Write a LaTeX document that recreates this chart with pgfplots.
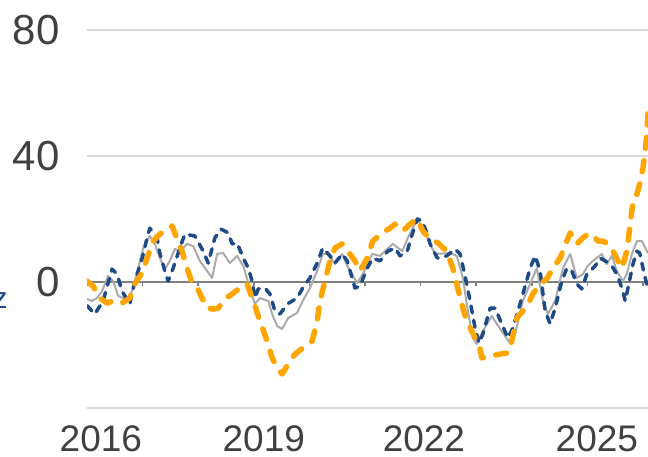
\documentclass[border=0pt]{standalone}
\usepackage{pgfplots}
\pgfplotsset{compat=1.18}
\usepackage{fontspec}
\setmainfont{Liberation Sans}

\definecolor{navyline}{RGB}{30,75,135}
\definecolor{orangeline}{RGB}{255,165,0}
\definecolor{grayline}{RGB}{170,170,170}
\definecolor{gridgray}{RGB}{217,217,217}
\definecolor{zerogray}{RGB}{128,128,128}
\definecolor{labelgray}{RGB}{64,64,64}

\begin{document}
\begin{tikzpicture}
\begin{axis}[
    at={(43.5pt,24pt)}, anchor=south west,
    scale only axis,
    width=280.5pt, height=189pt,
    x coord trafo/.code={\pgfmathparse{#1-2015}},
    x coord inv trafo/.code={\pgfmathparse{#1+2015}},
    xmin=2015.75, xmax=2025.84,
    ymin=-40, ymax=80,
    axis line style={draw=none},
    major tick length=0pt,
    xtick={2016.0,2018.93,2021.81,2024.92},
    xticklabels={2016,2019,2022,2025},
    ytick={-40,0,40,80},
    yticklabels={,0,40,80},
    ymajorgrids,
    grid style={gridgray, line width=0.75pt},
    xticklabel style={font=\fontsize{18.5}{22}\selectfont, text=labelgray, anchor=north, inner sep=0pt, yshift=-8.5pt},
    yticklabel style={font=\fontsize{21}{25}\selectfont, text=labelgray, anchor=east, inner sep=0pt, xshift=-13.5pt},
    clip=true,
]
% zero line with yearly ticks
\draw[zerogray, line width=0.75pt] (axis cs:2015.75,0) -- (axis cs:2025.84,0);
\pgfplotsinvokeforeach{2015.75,2016.75,2017.75,2018.75,2019.75,2020.75,2021.75,2022.75,2023.75,2024.75,2025.75}{
  \draw[zerogray, line width=0.75pt] (axis cs:#1,0) -- ([yshift=-2pt]axis cs:#1,0);
}

% gray solid series
\addplot[grayline, line width=1pt, line join=round] coordinates {
(2015.75,-5.4)(2015.84,-6.0)(2015.93,-5.1)(2016.02,-2.9)(2016.13,1.9)(2016.22,0.3)
(2016.31,-4.4)(2016.40,-5.1)(2016.49,-6.0)(2016.58,-1.9)(2016.67,4.4)(2016.76,10.8)
(2016.88,14.6)(2016.97,12.1)(2017.06,7.6)(2017.15,4.1)(2017.24,6.7)(2017.33,10.5)
(2017.42,9.8)(2017.55,12.1)(2017.66,11.4)(2017.78,6.7)(2017.91,3.5)(2018.00,1.3)
(2018.09,8.9)(2018.20,9.2)(2018.32,6.0)(2018.45,8.3)(2018.56,5.1)(2018.68,-1.9)
(2018.77,-7.0)(2018.86,-5.1)(2019.01,-6.0)(2019.08,-10.2)(2019.17,-14.0)(2019.26,-14.9)
(2019.37,-11.4)(2019.53,-9.8)(2019.63,-6.0)(2019.76,-1.9)(2019.89,3.5)(2019.99,8.9)
(2020.08,8.9)(2020.21,5.7)(2020.34,8.9)(2020.43,5.1)(2020.61,-0.3)(2020.71,2.5)
(2020.88,8.9)(2021.02,8.3)(2021.25,12.1)(2021.42,9.8)(2021.52,14.0)(2021.69,20.0)
(2021.79,17.1)(2021.92,12.1)(2022.01,8.9)(2022.28,9.2)(2022.40,8.3)(2022.51,1.3)
(2022.60,-9.2)(2022.69,-17.8)(2022.76,-19.7)(2022.87,-15.6)(2023.03,-10.8)(2023.18,-14.9)
(2023.36,-19.4)(2023.45,-16.5)(2023.59,-6.0)(2023.72,-0.6)(2023.84,4.4)(2023.95,-6.0)
(2024.04,-10.2)(2024.17,-6.0)(2024.31,4.4)(2024.44,8.9)(2024.56,1.3)(2024.67,2.5)
(2024.75,5.0)(2024.85,6.7)(2025.01,8.9)(2025.10,5.7)(2025.19,8.3)(2025.28,3.5)
(2025.39,0.3)(2025.46,2.5)(2025.55,8.9)(2025.64,13.0)(2025.73,13.0)(2025.84,9.2)
};

% navy dashed series
\addplot[navyline, line width=1.75pt, line cap=round, line join=round, dash pattern=on 3.5pt off 3.75pt] coordinates {
(2015.75,-7.5)(2015.89,-10.2)(2016.04,-6.0)(2016.20,4.1)(2016.29,2.5)(2016.38,-2.9)
(2016.52,-7.0)(2016.61,0.3)(2016.74,7.3)(2016.83,14.0)(2016.88,17.1)(2017.01,14.0)
(2017.06,9.2)(2017.15,3.5)(2017.21,0.3)(2017.30,4.4)(2017.42,10.8)(2017.51,15.2)
(2017.69,14.6)(2017.84,9.8)(2017.93,6.0)(2018.05,14.0)(2018.16,16.8)(2018.29,15.6)
(2018.36,12.1)(2018.45,12.4)(2018.56,7.6)(2018.65,4.4)(2018.72,0.3)(2018.77,-5.1)
(2018.83,-2.2)(2018.95,-1.9)(2019.04,-3.8)(2019.13,-9.2)(2019.22,-10.2)(2019.35,-7.0)
(2019.53,-5.1)(2019.63,-1.9)(2019.76,1.3)(2019.89,6.0)(2019.99,10.8)(2020.12,8.3)
(2020.21,6.0)(2020.34,8.9)(2020.43,6.7)(2020.57,-1.9)(2020.66,-1.3)(2020.79,4.4)
(2020.89,7.6)(2021.02,6.7)(2021.16,9.8)(2021.29,10.8)(2021.38,8.3)(2021.51,9.8)
(2021.60,15.2)(2021.69,20.0)(2021.78,19.4)(2021.87,15.2)(2021.92,12.1)(2022.05,7.6)
(2022.22,8.3)(2022.37,10.5)(2022.46,8.9)(2022.55,1.9)(2022.64,-6.0)(2022.73,-14.6)
(2022.80,-19.4)(2022.87,-16.5)(2023.00,-8.3)(2023.09,-8.3)(2023.21,-13.3)(2023.32,-17.8)
(2023.41,-14.6)(2023.59,-3.8)(2023.72,4.4)(2023.81,8.3)(2023.90,3.5)(2023.99,-9.2)
(2024.08,-13.3)(2024.17,-8.3)(2024.29,0.3)(2024.38,4.4)(2024.47,3.5)(2024.56,-0.6)
(2024.65,-2.2)(2024.74,2.5)(2024.89,5.1)(2024.98,7.6)(2025.07,6.7)(2025.19,5.1)
(2025.28,2.5)(2025.37,-1.9)(2025.43,-6.0)(2025.48,-1.9)(2025.57,5.7)(2025.64,9.8)
(2025.69,9.2)(2025.75,4.4)(2025.84,-2.5)
};

% orange dashed series
\addplot[orangeline, line width=2.75pt, line cap=round, line join=round, dash pattern=on 5.5pt off 6.25pt] coordinates {
(2015.75,0.3)(2015.86,-1.3)(2015.98,-5.1)(2016.11,-6.7)(2016.22,-6.0)(2016.38,-6.7)
(2016.52,-5.1)(2016.61,-0.6)(2016.74,2.9)(2016.83,7.6)(2016.94,13.0)(2017.06,15.2)
(2017.19,16.8)(2017.28,17.8)(2017.37,13.7)(2017.46,9.8)(2017.55,4.4)(2017.64,-0.3)
(2017.73,-1.9)(2017.82,-5.1)(2017.91,-8.3)(2018.02,-8.6)(2018.11,-8.3)(2018.23,-5.4)
(2018.36,-3.8)(2018.50,-1.9)(2018.63,-0.6)(2018.74,-6.0)(2018.86,-12.4)(2018.99,-18.7)
(2019.08,-24.1)(2019.17,-27.3)(2019.26,-29.2)(2019.37,-26.0)(2019.49,-22.9)(2019.63,-21.0)
(2019.80,-18.7)(2019.89,-12.4)(2019.94,-6.0)(2020.03,0.3)(2020.12,6.7)(2020.21,10.8)
(2020.34,12.1)(2020.44,9.8)(2020.57,6.7)(2020.66,3.5)(2020.79,7.6)(2020.89,13.0)
(2021.06,15.6)(2021.20,17.1)(2021.29,18.4)(2021.43,16.2)(2021.56,18.4)(2021.69,20.0)
(2021.79,16.2)(2021.92,13.7)(2022.06,12.4)(2022.22,9.8)(2022.33,4.4)(2022.40,-0.6)
(2022.49,-7.0)(2022.58,-12.4)(2022.67,-15.6)(2022.76,-18.7)(2022.82,-21.3)(2022.85,-24.1)
(2023.00,-23.5)(2023.18,-22.9)(2023.32,-22.5)(2023.39,-18.7)(2023.48,-11.4)(2023.59,-9.2)
(2023.68,-7.0)(2023.77,-3.8)(2023.90,-0.6)(2024.02,1.0)(2024.13,4.4)(2024.26,7.6)
(2024.38,13.0)(2024.44,15.6)(2024.56,12.1)(2024.67,14.0)(2024.76,15.2)(2024.83,15.2)
(2024.94,13.0)(2025.03,13.0)(2025.12,12.1)(2025.21,9.8)(2025.30,6.7)(2025.37,4.4)
(2025.46,9.8)(2025.52,18.4)(2025.57,25.7)(2025.64,27.9)(2025.69,31.1)(2025.75,36.2)
(2025.79,41.6)(2025.82,47.0)(2025.84,54.3)
};
\end{axis}
% cut-off fragment of text at the left edge
\node[anchor=base east, inner sep=0pt, text=navyline, font=\fontsize{15}{18}\selectfont] at (4pt,74pt) {z};
\pgfresetboundingbox
\useasboundingbox (0,0) rectangle (324pt,228pt);
\end{tikzpicture}
\end{document}
